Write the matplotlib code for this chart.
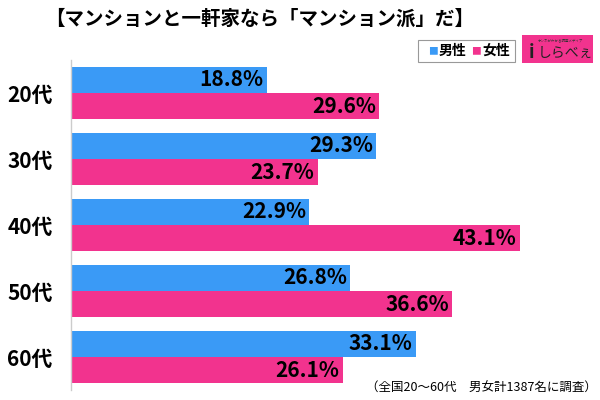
import numpy as np
import matplotlib.pyplot as plt
from matplotlib.patches import Rectangle

plt.rcParams['font.family'] = ['Noto Sans CJK JP', 'DejaVu Sans']

# Data
ages = ["20代", "30代", "40代", "50代", "60代"]
male = [18.8, 29.3, 22.9, 26.8, 33.1]
female = [29.6, 23.7, 43.1, 36.6, 26.1]

blue = "#3A9AF6"
pink = "#F2338E"

fig = plt.figure(figsize=(6, 4), dpi=100)
ax = fig.add_axes([0.118, 0.025, 0.868, 0.825])

y = np.arange(len(ages))
h = 0.394
ax.barh(y - h / 2, male, height=h, color=blue)
ax.barh(y + h / 2, female, height=h, color=pink)

for i in range(len(ages)):
    ax.text(male[i] - 0.3, y[i] - h / 2, f"{male[i]:.1f}%", ha="right", va="center",
            fontsize=15, fontweight="bold", color="black")
    ax.text(female[i] - 0.3, y[i] + h / 2, f"{female[i]:.1f}%", ha="right", va="center",
            fontsize=15, fontweight="bold", color="black")

ax.set_xlim(0, 50)
ax.set_ylim(4.5, -0.5)
ax.set_yticks(y)
ax.set_yticklabels(ages, fontsize=15, fontweight="bold")
ax.tick_params(axis="y", length=0, pad=13)
ax.set_xticks([])
for s in ["top", "right", "bottom"]:
    ax.spines[s].set_visible(False)
ax.spines["left"].set_color("#cccccc")
ax.spines["left"].set_linewidth(1)

# Title
fig.text(0.433, 0.953, "【マンションと一軒家なら「マンション派」だ】", ha="center", va="center",
         fontsize=14, fontweight="bold")

# Legend box
fig.patches.append(Rectangle((418 / 600, 1 - 62 / 400), 97 / 600, 22 / 400,
                             transform=fig.transFigure, facecolor="white",
                             edgecolor="#999999", linewidth=0.8))
fig.text(433 / 600, 1 - 51 / 400, "■", color=blue, fontsize=7, ha="center", va="center")
fig.text(439 / 600, 1 - 51 / 400, "男性", fontsize=10, fontweight="bold", ha="left", va="center")
fig.text(476 / 600, 1 - 51 / 400, "■", color=pink, fontsize=7, ha="center", va="center")
fig.text(482 / 600, 1 - 51 / 400, "女性", fontsize=10, fontweight="bold", ha="left", va="center")

# Logo
fig.patches.append(Rectangle((522 / 600, 1 - 63 / 400), 71 / 600, 28 / 400,
                             transform=fig.transFigure, facecolor=pink, edgecolor="none"))
fig.text(532 / 600, 1 - 52 / 400, "i", fontsize=13, fontweight="bold", ha="center", va="center",
         color="#222222")
fig.text(565 / 600, 1 - 53 / 400, "しらべぇ", fontsize=10, ha="center", va="center", color="#222222")
fig.text(560 / 600, 1 - 40 / 400, "ホンネがわかる調査メディア", fontsize=2.5, ha="center", va="center",
         color="#333333")

# Footnote
fig.text(0.995, 0.03, "（全国20～60代　男女計1387名に調査）", ha="right", va="center", fontsize=9)

fig.savefig("out.png", dpi=100)
